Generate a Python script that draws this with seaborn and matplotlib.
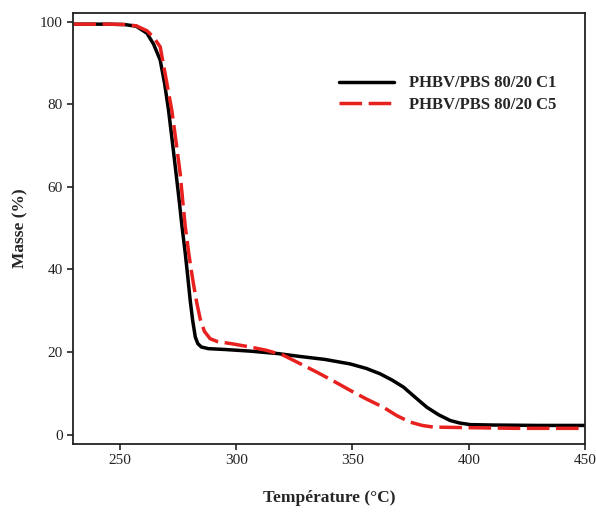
import numpy as np
import pandas as pd
import matplotlib
matplotlib.use("Agg")
import matplotlib.pyplot as plt
import seaborn as sns

# courbes ATG
temp_c1 = [230, 245, 252, 257, 261.6, 264.5, 267.3, 269.2, 270.9, 272.4, 273.8, 275.3, 276.7, 278.1,
           279.2, 280.2, 281.3, 282.4, 283.5, 285, 288, 295, 306, 318, 327.5, 338, 349, 356,
           361.9, 367, 371.9, 377, 382, 387, 392, 396, 400.6, 410, 430, 450]
masse_c1 = [99.4, 99.4, 99.3, 98.9, 97.2, 94.5, 90.7, 85.0, 78.5, 71.5, 64.8, 57.5, 50.3, 43.8,
            38.0, 32.5, 27.5, 23.6, 22.0, 21.2, 20.8, 20.6, 20.2, 19.6, 18.9, 18.2, 17.1, 16.0,
            14.7, 13.2, 11.5, 9.0, 6.6, 4.8, 3.4, 2.8, 2.4, 2.3, 2.2, 2.2]

temp_c5 = [230, 245, 252, 257, 261.6, 264.5, 267.3, 270.2, 272.3, 274.1, 275.9, 277.0, 278.1,
           279.6, 280.6, 281.6, 283.0, 284.5, 286.3, 288.8, 292, 298, 306, 313, 320.3, 327,
           334.7, 342, 349, 356, 363.3, 369, 374.8, 380, 384.8, 395, 420, 450]
masse_c5 = [99.4, 99.4, 99.3, 99.0, 97.8, 96.2, 93.9, 85.0, 78.5, 71.0, 63.2, 56.5, 50.3,
            43.8, 40.0, 36.5, 32.0, 28.0, 25.0, 23.2, 22.5, 22.0, 21.2, 20.4, 19.2, 17.3,
            15.1, 12.9, 10.7, 8.6, 6.6, 4.6, 3.0, 2.2, 1.8, 1.7, 1.5, 1.5]

noms = ["PHBV/PBS 80/20 C1", "PHBV/PBS 80/20 C5"]

df = pd.concat([
    pd.DataFrame({"T": temp_c1, "m": masse_c1, "ech": noms[0]}),
    pd.DataFrame({"T": temp_c5, "m": masse_c5, "ech": noms[1]}),
])

sns.set_style("ticks")
plt.rcParams["font.family"] = ["Liberation Serif", "DejaVu Serif"]

fig = plt.figure(figsize=(5.96, 5.16), dpi=100)
ax = fig.add_axes([0.1225, 0.1395, 0.859, 0.8353])

sns.lineplot(data=df, x="T", y="m", hue="ech", style="ech",
             palette={noms[0]: "black", noms[1]: "#e8201e"},
             dashes={noms[0]: "", noms[1]: (6.5, 1.9)},
             linewidth=2.5, sort=False, estimator=None, ax=ax)

ax.set_xlim(229.8, 450)
ax.set_ylim(-2.3, 102.1)
ax.set_xticks([250, 300, 350, 400, 450])
ax.set_yticks([0, 20, 40, 60, 80, 100])
ax.tick_params(direction="out", length=4, width=1.2, labelsize=11, colors="#222222")
for s in ax.spines.values():
    s.set_linewidth(1.3)
    s.set_color("#222222")

ax.set_xlabel("Température (°C)", fontsize=12.5, fontweight="bold", labelpad=16)
ax.set_ylabel("Masse (%)", fontsize=12.5, fontweight="bold", labelpad=8)

leg = ax.legend(loc="upper left", bbox_to_anchor=(0.49, 0.89), frameon=False,
                prop={"weight": "bold", "size": 12}, handlelength=3.3,
                handletextpad=0.9, labelspacing=0.35)

fig.savefig("out.png", dpi=100)
